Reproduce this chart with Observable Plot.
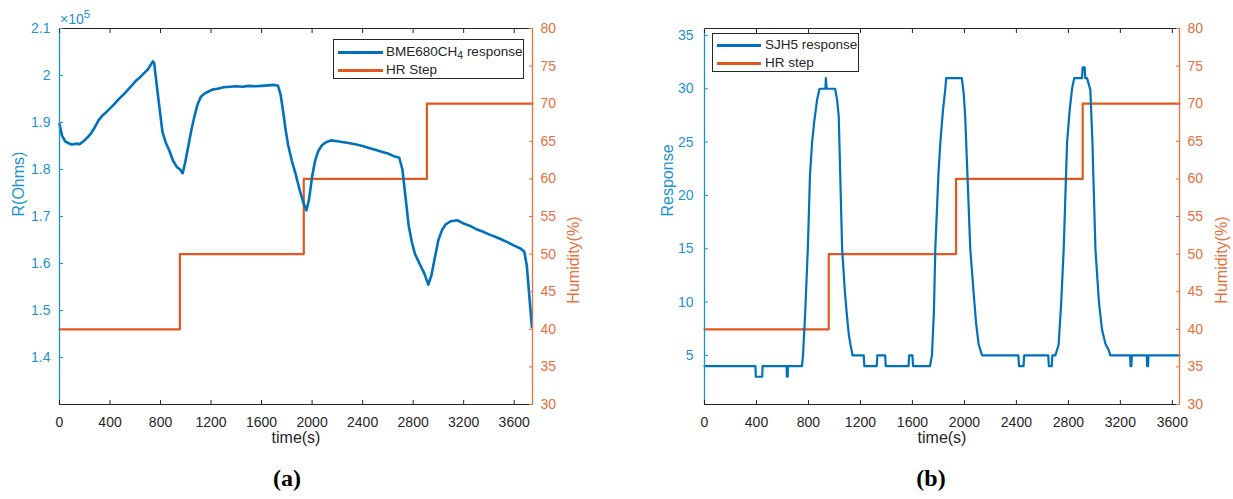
<!DOCTYPE html>
<html><head><meta charset="utf-8">
<script src="https://cdn.jsdelivr.net/npm/d3@7"></script>
<script src="https://cdn.jsdelivr.net/npm/@observablehq/plot@0.6"></script>
<style>
body{margin:0;background:#fff;font-family:"Liberation Sans",Arial,sans-serif;}
#wrap{position:relative;width:1233px;height:499px;overflow:hidden;background:#fff}
.panel{position:absolute;top:0}
.legend{position:absolute;border:1px solid #262626;background:#fff;font-size:13.5px;color:#262626;box-sizing:border-box}
.legend .row{position:absolute;left:0;right:0;height:16px}
.legend .sw{position:absolute;height:2.5px;top:7px}
.legend .lt{position:absolute;top:-1px;white-space:nowrap;line-height:18px}
.cap{position:absolute;font-family:"Liberation Serif","DejaVu Serif",serif;font-weight:bold;font-size:24px;color:#000;transform:translate(-50%,-50%);white-space:nowrap}
.exp{position:absolute;font-size:14px;white-space:nowrap}
</style></head>
<body>
<div id="wrap"></div>
<script>
// ---------- data: panel (a) ----------
const aTime = [0,20,45,70,100,130,160,190,220,250,280,310,340,370,400,430,460,490,520,550,580,610,640,670,700,720,740,750,765,790,815,840,870,900,930,955,975,995,1020,1045,1070,1095,1120,1150,1180,1210,1250,1300,1350,1400,1450,1500,1550,1600,1650,1700,1730,1750,1770,1790,1810,1840,1870,1900,1930,1955,1975,2000,2025,2050,2080,2110,2150,2200,2250,2300,2350,2400,2450,2500,2550,2600,2650,2690,2715,2740,2765,2790,2815,2850,2890,2920,2945,2970,3000,3030,3060,3100,3150,3200,3250,3300,3350,3400,3450,3500,3550,3600,3650,3680,3700,3720,3740];
const aR = [1.897,1.872,1.860,1.856,1.853,1.855,1.854,1.860,1.868,1.877,1.890,1.905,1.915,1.922,1.930,1.938,1.947,1.955,1.963,1.972,1.981,1.990,1.997,2.005,2.013,2.022,2.030,2.026,1.990,1.935,1.880,1.858,1.840,1.818,1.805,1.800,1.792,1.815,1.850,1.885,1.915,1.940,1.955,1.962,1.966,1.970,1.972,1.975,1.976,1.977,1.976,1.978,1.977,1.978,1.979,1.980,1.978,1.960,1.925,1.885,1.852,1.818,1.790,1.758,1.730,1.713,1.735,1.785,1.820,1.840,1.852,1.858,1.862,1.860,1.858,1.856,1.853,1.850,1.846,1.842,1.838,1.834,1.828,1.825,1.800,1.740,1.680,1.645,1.620,1.600,1.578,1.555,1.575,1.610,1.650,1.672,1.684,1.690,1.692,1.685,1.680,1.673,1.668,1.662,1.657,1.651,1.645,1.638,1.632,1.625,1.595,1.530,1.465];
const aStepTime = [0,953,1934,2909,3745];
const aStepHR = [40,50,60,70,70];

// ---------- data: panel (b) ----------
const bTime = [0,392,395,444,447,632,634,640,642,750,758,775,795,812,828,845,867,885,930,934,940,1005,1020,1033,1059,1080,1097,1110,1123,1140,1225,1230,1325,1330,1390,1395,1570,1575,1600,1605,1735,1750,1765,1776,1800,1815,1835,1853,1860,1980,1995,2006,2045,2070,2090,2110,2136,2415,2420,2455,2460,2645,2650,2672,2677,2700,2725,2745,2764,2790,2810,2828,2845,2905,2910,2925,2930,2944,2969,2985,3008,3035,3059,3085,3110,3123,3275,3278,3285,3288,3403,3406,3413,3416,3655];
const bResp = [4,4,3,3,4,4,3,3,4,4,5,9,15,22,25,27,29,30,30,31,30,30,29,27.4,15,11,8.6,7,6,5,5,4,4,5,5,4,4,5,5,4,4,5,9,15,22,25,28,30,31,31,29.5,27.4,15,11,8,6,5,5,4,4,5,5,4,4,5,5,6,10,15,25,28,30,31,31,32,32,31,31,29.9,25,15,10,7.4,6.1,5.5,5,5,4,4,5,5,4,4,5,5];
const bStepTime = [0,956,1936,2910,3655];
const bStepHR = [40,50,60,70,70];

// ---------- ticks ----------
const xTicks = [0,400,800,1200,1600,2000,2400,2800,3200,3600];
const aYTicks = [1.4,1.5,1.6,1.7,1.8,1.9,2.0,2.1];
const bYTicks = [5,10,15,20,25,30,35];
const hTicks = [30,35,40,45,50,55,60,65,70,75,80];

const BLUE = "#0072BD", BLUE_AX = "#1a93d3", ORANGE = "#E2581E", ORANGE_AX = "#e8703c", DARK = "#262626";

function panel(o) {
  const [lo, hi] = o.yDomain;
  const toLeft = h => lo + (h - 30) / 50 * (hi - lo);
  const series = o.t.map((t, i) => ({t, v: o.v[i]}));
  const steps = o.st.map((t, i) => ({t, h: o.sh[i]}));
  return Plot.plot({
    width: o.width, height: 460,
    marginTop: 28, marginBottom: 56, marginLeft: o.ml, marginRight: o.mr,
    style: {fontFamily: "'Liberation Sans', Arial, sans-serif", fontSize: "14px", background: "transparent", overflow: "visible"},
    x: {domain: [0, o.xMax]},
    y: {domain: o.yDomain},
    marks: [
      Plot.line(steps, {x: "t", y: d => toLeft(d.h), curve: "step-after", stroke: ORANGE, strokeWidth: 2.2}),
      Plot.line(series, {x: "t", y: "v", stroke: BLUE, strokeWidth: o.lw}),
      Plot.ruleY([lo], {stroke: DARK, strokeWidth: 1}),
      Plot.ruleY([hi], {stroke: DARK, strokeWidth: 1}),
      Plot.ruleX([0], {stroke: BLUE_AX, strokeWidth: 1.3}),
      Plot.ruleX([o.xMax], {stroke: ORANGE_AX, strokeWidth: 1.3}),
      Plot.axisX(xTicks, {anchor: "bottom", tickSize: -4, tickPadding: 16.5, color: DARK, label: null, tickFormat: d => String(d)}),
      Plot.axisX(xTicks, {anchor: "top", tickSize: -4, color: DARK, label: null, tickFormat: () => ""}),
      Plot.axisY(o.yTicks, {anchor: "left", tickSize: -4, tickPadding: o.lp, color: BLUE_AX, label: null, tickFormat: o.yFmt}),
      Plot.axisY(hTicks.map(toLeft), {anchor: "right", tickSize: -4, tickPadding: 12, color: ORANGE_AX, label: null, tickFormat: d => String(Math.round((d - lo) / (hi - lo) * 50 + 30))}),
      Plot.text([o.yLabel], {text: d => d, frameAnchor: "left", rotate: -90, dx: o.ylDx, fill: BLUE_AX, fontSize: 16}),
      Plot.text(["Humidity(%)"], {text: d => d, frameAnchor: "right", rotate: -90, dx: o.yrDx, fill: ORANGE_AX, fontSize: 16}),
      Plot.text(["time(s)"], {text: d => d, frameAnchor: "bottom", dy: 38, fill: DARK, fontSize: 16})
    ]
  });
}

const wrap = document.getElementById("wrap");

function place(el, left) { const d = document.createElement("div"); d.className = "panel"; d.style.left = left + "px"; d.appendChild(el); wrap.appendChild(d); }

place(panel({width: 616, ml: 59, mr: 84, xMax: 3745, yDomain: [1.3, 2.1], yTicks: aYTicks,
  yFmt: d => String(+d.toFixed(1)), t: aTime, v: aR, st: aStepTime, sh: aStepHR, lw: 2.6,
  yLabel: "R(Ohms)", ylDx: -41, yrDx: 41, lp: 13}), 0);

place(panel({width: 617, ml: 88, mr: 54, xMax: 3655, yDomain: [0.4, 35.65], yTicks: bYTicks,
  yFmt: d => String(d), t: bTime, v: bResp, st: bStepTime, sh: bStepHR, lw: 2.2,
  yLabel: "Response", ylDx: -37, yrDx: 42, lp: 15}), 616);

// exponent label
const ex = document.createElement("div");
ex.className = "exp"; ex.style.left = "60px"; ex.style.top = "11px"; ex.style.color = BLUE_AX;
ex.innerHTML = '×10<span style="position:relative;top:-6px;font-size:11.5px">5</span>';
wrap.appendChild(ex);

// legends
function legend(left, top, w, h, items, rowsY, swL, swW, txL) {
  const L = document.createElement("div");
  L.className = "legend";
  Object.assign(L.style, {left: left + "px", top: top + "px", width: w + "px", height: h + "px"});
  items.forEach((it, i) => {
    const r = document.createElement("div"); r.className = "row"; r.style.top = rowsY[i] + "px";
    const s = document.createElement("div"); s.className = "sw";
    Object.assign(s.style, {left: swL + "px", width: swW + "px", background: it.c});
    const t = document.createElement("div"); t.className = "lt"; t.style.left = txL + "px"; t.innerHTML = it.label;
    r.appendChild(s); r.appendChild(t); L.appendChild(r);
  });
  wrap.appendChild(L);
}
legend(333, 39, 191, 40, [{c: BLUE, label: 'BME680CH<sub style="font-size:10.5px;vertical-align:-3px;line-height:0">4</sub> response'}, {c: ORANGE, label: "HR Step"}], [4, 22], 4, 45, 52);
legend(712, 33, 147, 39, [{c: BLUE, label: "SJH5 response"}, {c: ORANGE, label: "HR step"}], [3, 21], 4, 44, 52);

// captions
function cap(txt, x, y) { const c = document.createElement("div"); c.className = "cap"; c.style.left = x + "px"; c.style.top = y + "px"; c.textContent = txt; wrap.appendChild(c); }
cap("(a)", 287, 478);
cap("(b)", 931, 478);
</script>
</body></html>
